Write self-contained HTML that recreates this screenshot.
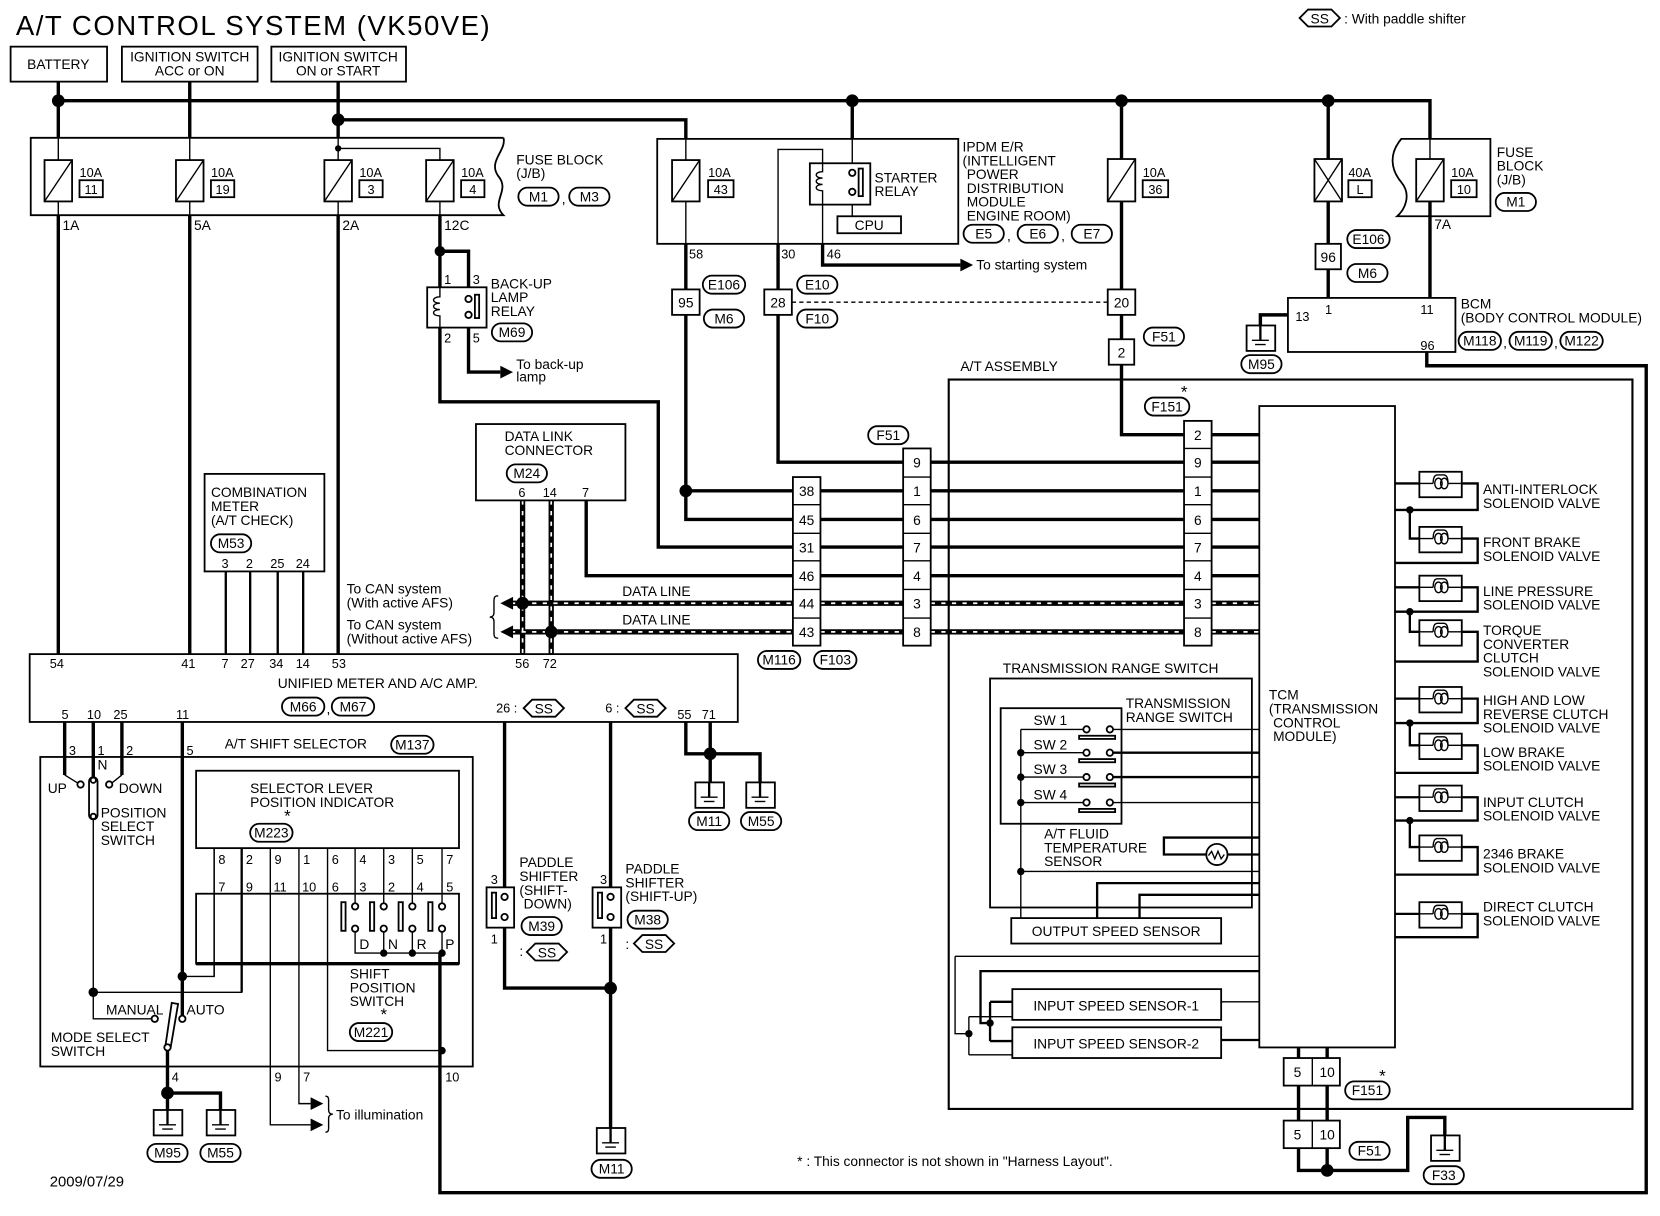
<!DOCTYPE html>
<html><head><meta charset="utf-8"><style>
html,body{margin:0;padding:0;background:#fff}
svg{display:block}
text{font-family:"Liberation Sans",Arial,sans-serif;font-size:13px;fill:#000}
.k{stroke:#000;stroke-width:3.2;fill:none}
.m{stroke:#000;stroke-width:2.2;fill:none}
.n{stroke:#000;stroke-width:1.3;fill:none}
.b{stroke:#000;stroke-width:1.7;fill:#fff}
.bn{stroke:#000;stroke-width:1.7;fill:none}
.c{text-anchor:middle}
</style></head><body>
<svg width="1660" height="1216" viewBox="0 0 1566 1147" preserveAspectRatio="none" xmlns="http://www.w3.org/2000/svg">
<defs>
<g id="gnd"><rect x="-13" y="0" width="27" height="24" class="b"/><line x1="0" y1="0" x2="0" y2="14" class="m"/><line x1="-8" y1="14" x2="8" y2="14" class="n"/><line x1="-5" y1="18" x2="5" y2="18" class="n"/></g>
<g id="coil"><rect x="0" y="-11" width="40" height="24" class="b"/><path d="M0,0 H13 M27,0 H40 M13,0 c0,-6 2,-8 4,-8 h6 c2,0 4,2 4,8" class="n"/><ellipse cx="18" cy="0" rx="3.5" ry="5" class="n"/><ellipse cx="23.5" cy="0" rx="3.5" ry="5" class="n"/></g>
<g id="ss"><polygon points="0,8 8,0 30,0 38,8 30,16 8,16" class="b"/><text x="19" y="13" class="c">SS</text></g>
</defs>

<!-- title -->
<text x="15" y="33" style="font-size:26px" textLength="447">A/T CONTROL SYSTEM (VK50VE)</text>
<use href="#ss" x="1226" y="9"/>
<text x="1268" y="22">: With paddle shifter</text>

<!-- top boxes -->
<rect x="10" y="44" width="91" height="33" class="b"/><text x="55" y="65" class="c">BATTERY</text>
<rect x="115" y="44" width="128" height="33" class="b"/><text x="179" y="58" class="c">IGNITION SWITCH</text><text x="179" y="71" class="c">ACC or ON</text>
<rect x="256" y="44" width="127" height="33" class="b"/><text x="319" y="58" class="c">IGNITION SWITCH</text><text x="319" y="71" class="c">ON or START</text>

<!-- bus -->
<path d="M55,77 V130 M55,95 H1349 V131 M179,77 V130 M319,77 V130 M319,113 H647 V131 M804,95 V131 M1058,95 V150 M1253,95 V150" class="k"/>
<circle cx="55" cy="95" r="6"/><circle cx="319" cy="113" r="6"/><circle cx="804" cy="95" r="6"/><circle cx="1058" cy="95" r="6"/><circle cx="1253" cy="95" r="6"/>

<!-- fuse block left -->
<path d="M475,130 H29 V203 H475 C462,190 482,180 470,166 C460,152 478,142 475,130" class="bn"/>
<path d="M55,130 V151 M179,130 V151 M319,130 V151 M319,140 H415 V151 M55,190 V203 M179,190 V203 M319,190 V203 M415,190 V203" class="n"/>
<circle cx="319" cy="140" r="3"/>
<g>
<rect x="42" y="151" width="26" height="39" class="b"/><line x1="42" y1="190" x2="68" y2="151" class="n"/><text x="75" y="167" style="font-size:12px">10A</text><rect x="75" y="170" width="22" height="16" class="b"/><text x="86" y="183" class="c" style="font-size:12px">11</text>
<rect x="166" y="151" width="26" height="39" class="b"/><line x1="166" y1="190" x2="192" y2="151" class="n"/><text x="199" y="167" style="font-size:12px">10A</text><rect x="199" y="170" width="22" height="16" class="b"/><text x="210" y="183" class="c" style="font-size:12px">19</text>
<rect x="306" y="151" width="26" height="39" class="b"/><line x1="306" y1="190" x2="332" y2="151" class="n"/><text x="339" y="167" style="font-size:12px">10A</text><rect x="339" y="170" width="22" height="16" class="b"/><text x="350" y="183" class="c" style="font-size:12px">3</text>
<rect x="402" y="151" width="26" height="39" class="b"/><line x1="402" y1="190" x2="428" y2="151" class="n"/><text x="435" y="167" style="font-size:12px">10A</text><rect x="435" y="170" width="22" height="16" class="b"/><text x="446" y="183" class="c" style="font-size:12px">4</text>
</g>
<text x="487" y="155">FUSE BLOCK</text><text x="487" y="168">(J/B)</text>
<rect x="489" y="177" width="38" height="17" rx="8.5" class="b"/><text x="508" y="190" class="c">M1</text><text x="530" y="192">,</text>
<rect x="537" y="177" width="38" height="17" rx="8.5" class="b"/><text x="556" y="190" class="c">M3</text>
<text x="59" y="217">1A</text><text x="183" y="217">5A</text><text x="323" y="217">2A</text><text x="419" y="217">12C</text>

<!-- main down wires -->
<path d="M55,203 V617 M179,203 V617 M319,203 V617 M415,203 V271 M415,309 V379 H621 V516 H748 M442,271 V237 H415" class="k"/>
<circle cx="415" cy="237" r="5"/>
<!-- backup relay -->
<rect x="403" y="271" width="56" height="38" class="b"/>
<path d="M415,271 V280 c-8,0 -8,6 0,6 c-8,0 -8,6 0,6 c-8,0 -8,6 0,6 V309" class="n"/>
<circle cx="442" cy="282" r="3" class="b"/><circle cx="442" cy="297" r="3" class="b"/><rect x="448" y="278" width="4" height="22" class="b"/>
<path d="M442,309 V351 H472" class="k"/><polygon points="472,345 484,351 472,357"/>
<text x="419" y="268" style="font-size:12px">1</text><text x="446" y="268" style="font-size:12px">3</text><text x="419" y="323" style="font-size:12px">2</text><text x="446" y="323" style="font-size:12px">5</text>
<text x="463" y="272">BACK-UP</text><text x="463" y="285">LAMP</text><text x="463" y="298">RELAY</text>
<rect x="464" y="305" width="38" height="17" rx="8.5" class="b"/><text x="483" y="318" class="c">M69</text>
<text x="487" y="348">To back-up</text><text x="487" y="360">lamp</text>

<!-- IPDM -->
<rect x="620" y="131" width="284" height="99" class="bn"/>
<rect x="634" y="151" width="26" height="39" class="b"/><line x1="634" y1="190" x2="660" y2="151" class="n"/>
<text x="668" y="167" style="font-size:12px">10A</text><rect x="668" y="170" width="24" height="16" class="b"/><text x="680" y="183" class="c" style="font-size:12px">43</text>
<path d="M647,131 V151 M647,190 V230 M734,230 V141 H776 V154 M804,131 V160 M804,181 V204 M776,193 V230" class="n"/>
<rect x="764" y="154" width="57" height="39" class="b"/>
<path d="M776,154 V162 c-8,0 -8,6 0,6 c-8,0 -8,6 0,6 c-8,0 -8,6 0,6 V193" class="n"/>
<circle cx="804" cy="163" r="3" class="b"/><circle cx="804" cy="181" r="3" class="b"/><rect x="810" y="159" width="4" height="26" class="b"/>
<rect x="790" y="204" width="60" height="16" class="b"/><text x="820" y="217" class="c">CPU</text>
<text x="825" y="172">STARTER</text><text x="825" y="185">RELAY</text>
<text x="908" y="143">IPDM E/R</text><text x="908" y="156">(INTELLIGENT</text><text x="912" y="169">POWER</text><text x="912" y="182">DISTRIBUTION</text><text x="912" y="195">MODULE</text><text x="912" y="208">ENGINE ROOM)</text>
<rect x="909" y="212" width="38" height="17" rx="8.5" class="b"/><text x="928" y="225" class="c">E5</text><text x="950" y="227">,</text>
<rect x="960" y="212" width="38" height="17" rx="8.5" class="b"/><text x="979" y="225" class="c">E6</text><text x="1001" y="227">,</text>
<rect x="1011" y="212" width="38" height="17" rx="8.5" class="b"/><text x="1030" y="225" class="c">E7</text>
<text x="650" y="244" style="font-size:12px">58</text><text x="737" y="244" style="font-size:12px">30</text><text x="780" y="244" style="font-size:12px">46</text>
<path d="M776,230 V250 H906" class="k"/><polygon points="906,244 918,250 906,256"/>
<text x="921" y="254">To starting system</text>
<path d="M647,230 V490 H748 M647,463 H748 M734,230 V436 H852" class="k"/>
<circle cx="647" cy="463" r="6"/>
<rect x="634" y="273" width="26" height="24" class="b"/><text x="647" y="290" class="c">95</text>
<rect x="721" y="273" width="26" height="24" class="b"/><text x="734" y="290" class="c">28</text>
<rect x="663" y="260" width="40" height="17" rx="8.5" class="b"/><text x="683" y="273" class="c">E106</text>
<rect x="664" y="292" width="38" height="17" rx="8.5" class="b"/><text x="683" y="305" class="c">M6</text>
<rect x="752" y="260" width="38" height="17" rx="8.5" class="b"/><text x="771" y="273" class="c">E10</text>
<rect x="752" y="292" width="38" height="17" rx="8.5" class="b"/><text x="771" y="305" class="c">F10</text>
<line x1="747" y1="285" x2="1045" y2="285" class="n" stroke-dasharray="4,3"/>

<!-- fuse 36 branch -->
<rect x="1045" y="150" width="26" height="40" class="b"/><line x1="1045" y1="190" x2="1071" y2="150" class="n"/>
<text x="1078" y="167" style="font-size:12px">10A</text><rect x="1078" y="170" width="24" height="16" class="b"/><text x="1090" y="183" class="c" style="font-size:12px">36</text>
<path d="M1058,190 V273 M1058,297 V320 M1058,344 V410 H1117" class="k"/>
<rect x="1045" y="273" width="26" height="24" class="b"/><text x="1058" y="290" class="c">20</text>
<rect x="1046" y="320" width="24" height="24" class="b"/><text x="1058" y="337" class="c">2</text>
<rect x="1079" y="309" width="38" height="17" rx="8.5" class="b"/><text x="1098" y="322" class="c">F51</text>
<rect x="1080" y="375" width="42" height="17" rx="8.5" class="b"/><text x="1101" y="388" class="c">F151</text><text x="1114" y="375" style="font-size:16px">*</text>

<!-- 40A and BCM -->
<rect x="1240" y="150" width="26" height="40" class="b"/><path d="M1240,150 L1266,190 M1266,150 L1240,190" class="n"/>
<text x="1272" y="167" style="font-size:12px">40A</text><rect x="1272" y="170" width="22" height="16" class="b"/><text x="1283" y="183" class="c" style="font-size:12px">L</text>
<path d="M1253,190 V230 M1253,254 V281" class="k"/>
<rect x="1241" y="230" width="24" height="24" class="b"/><text x="1253" y="247" class="c">96</text>
<rect x="1271" y="217" width="40" height="17" rx="8.5" class="b"/><text x="1291" y="230" class="c">E106</text>
<rect x="1271" y="249" width="38" height="17" rx="8.5" class="b"/><text x="1290" y="262" class="c">M6</text>
<path d="M1406,131 H1322 C1310,145 1312,160 1322,172 C1332,184 1325,198 1318,204 H1406 Z" class="bn"/>
<rect x="1336" y="150" width="26" height="40" class="b"/><line x1="1336" y1="190" x2="1362" y2="150" class="n"/>
<text x="1369" y="167" style="font-size:12px">10A</text><rect x="1369" y="170" width="24" height="16" class="b"/><text x="1381" y="183" class="c" style="font-size:12px">10</text>
<path d="M1349,131 V150" class="n"/>
<path d="M1349,190 V281" class="k"/>
<text x="1353" y="216">7A</text>
<text x="1412" y="148">FUSE</text><text x="1412" y="161">BLOCK</text><text x="1412" y="174">(J/B)</text>
<rect x="1411" y="182" width="38" height="17" rx="8.5" class="b"/><text x="1430" y="195" class="c">M1</text>
<rect x="1215" y="281" width="158" height="51" class="b"/>
<text x="1222" y="303" style="font-size:12px">13</text><text x="1250" y="296" style="font-size:12px">1</text><text x="1340" y="296" style="font-size:12px">11</text><text x="1340" y="330" style="font-size:12px">96</text>
<text x="1378" y="291">BCM</text><text x="1378" y="304">(BODY CONTROL MODULE)</text>
<rect x="1376" y="313" width="40" height="17" rx="8.5" class="b"/><text x="1396" y="326" class="c">M118</text><text x="1418" y="328">,</text>
<rect x="1424" y="313" width="40" height="17" rx="8.5" class="b"/><text x="1444" y="326" class="c">M119</text><text x="1466" y="328">,</text>
<rect x="1472" y="313" width="40" height="17" rx="8.5" class="b"/><text x="1492" y="326" class="c">M122</text>
<path d="M1215,297 H1189 V307" class="k"/>
<use href="#gnd" x="1189" y="307"/>
<rect x="1171" y="335" width="38" height="17" rx="8.5" class="b"/><text x="1190" y="348" class="c">M95</text>
<path d="M1346,332 V345 H1553 V1125 H415 V899" class="k"/>

<!-- A/T assembly -->
<text x="906" y="350">A/T ASSEMBLY</text>
<rect x="895" y="358" width="645" height="688" class="bn" style="stroke-width:2"/>
<rect x="1188" y="383" width="128" height="605" class="b"/>
<text x="1197" y="660">TCM</text><text x="1197" y="673">(TRANSMISSION</text><text x="1201" y="686">CONTROL</text><text x="1201" y="699">MODULE)</text>

<!-- harness lines -->
<path d="M1143,410 H1188 M1143,436 H1188 M1143,463 H1188 M1143,490 H1188 M1143,516 H1188 M1143,543 H1188
M878,436 H1117 M878,463 H1117 M878,490 H1117 M878,516 H1117 M878,543 H1117
M774,463 H852 M774,490 H852 M774,516 H852 M774,543 H852 M553,472 V543 H748" class="k"/>
<g>
<path d="M482,569 H748 M774,569 H852 M878,569 H1117 M1143,569 H1188 M482,596 H748 M774,596 H852 M878,596 H1117 M1143,596 H1188 M493,472 V617 M520,472 V617" stroke="#000" stroke-width="5" fill="none"/>
<path d="M482,569 H748 M774,569 H852 M878,569 H1117 M1143,569 H1188 M482,596 H748 M774,596 H852 M878,596 H1117 M1143,596 H1188 M493,472 V617 M520,472 V617" stroke="#fff" stroke-width="1.6" stroke-dasharray="4,6" fill="none"/>
</g>
<circle cx="493" cy="569" r="6"/><circle cx="520" cy="596" r="6"/>
<polygon points="484,563 472,569 484,575"/><polygon points="484,590 472,596 484,602"/>
<text x="587" y="562">DATA LINE</text><text x="587" y="589">DATA LINE</text>
<path d="M470,562 c-4,0 -4,2 -4,6 v10 c0,3 -2,4 -4,4 c2,0 4,1 4,4 v10 c0,4 0,6 4,6" class="n"/>
<text x="327" y="560">To CAN system</text><text x="327" y="573">(With active AFS)</text>
<text x="327" y="594">To CAN system</text><text x="327" y="607">(Without active AFS)</text>

<!-- connector columns -->
<g>
<rect x="1117" y="397" width="26" height="212" class="b"/>
<path d="M1117,423 H1143 M1117,450 H1143 M1117,476 H1143 M1117,503 H1143 M1117,529 H1143 M1117,556 H1143 M1117,583 H1143" class="n"/>
<text x="1130" y="415" class="c">2</text><text x="1130" y="441" class="c">9</text><text x="1130" y="468" class="c">1</text><text x="1130" y="495" class="c">6</text><text x="1130" y="521" class="c">7</text><text x="1130" y="548" class="c">4</text><text x="1130" y="574" class="c">3</text><text x="1130" y="601" class="c">8</text>
<rect x="852" y="423" width="26" height="186" class="b"/>
<path d="M852,450 H878 M852,476 H878 M852,503 H878 M852,529 H878 M852,556 H878 M852,583 H878" class="n"/>
<text x="865" y="441" class="c">9</text><text x="865" y="468" class="c">1</text><text x="865" y="495" class="c">6</text><text x="865" y="521" class="c">7</text><text x="865" y="548" class="c">4</text><text x="865" y="574" class="c">3</text><text x="865" y="601" class="c">8</text>
<rect x="819" y="402" width="38" height="17" rx="8.5" class="b"/><text x="838" y="415" class="c">F51</text>
<rect x="748" y="450" width="26" height="159" class="b"/>
<path d="M748,476 H774 M748,503 H774 M748,529 H774 M748,556 H774 M748,583 H774" class="n"/>
<text x="761" y="468" class="c">38</text><text x="761" y="495" class="c">45</text><text x="761" y="521" class="c">31</text><text x="761" y="548" class="c">46</text><text x="761" y="574" class="c">44</text><text x="761" y="601" class="c">43</text>
<rect x="715" y="614" width="40" height="17" rx="8.5" class="b"/><text x="735" y="627" class="c">M116</text>
<rect x="768" y="614" width="40" height="17" rx="8.5" class="b"/><text x="788" y="627" class="c">F103</text>
</g>

<!-- DLC -->
<rect x="449" y="400" width="141" height="72" class="b"/>
<text x="476" y="416">DATA LINK</text><text x="476" y="429">CONNECTOR</text>
<rect x="478" y="438" width="38" height="17" rx="8.5" class="b"/><text x="497" y="451" class="c">M24</text>
<text x="489" y="469" style="font-size:12px">6</text><text x="512" y="469" style="font-size:12px">14</text><text x="549" y="469" style="font-size:12px">7</text>

<!-- combination meter -->
<rect x="193" y="447" width="113" height="92" class="b"/>
<text x="199" y="469">COMBINATION</text><text x="199" y="482">METER</text><text x="199" y="495">(A/T CHECK)</text>
<rect x="199" y="504" width="38" height="17" rx="8.5" class="b"/><text x="218" y="517" class="c">M53</text>
<text x="209" y="536" style="font-size:12px">3</text><text x="232" y="536" style="font-size:12px">2</text><text x="255" y="536" style="font-size:12px">25</text><text x="279" y="536" style="font-size:12px">24</text>
<path d="M213,539 V617 M236,539 V617 M262,539 V617 M286,539 V617" class="m"/>

<!-- unified meter -->
<rect x="28" y="617" width="668" height="64" class="b"/>
<g style="font-size:12px">
<text x="47" y="630" style="font-size:12px">54</text><text x="171" y="630" style="font-size:12px">41</text><text x="209" y="630" style="font-size:12px">7</text><text x="227" y="630" style="font-size:12px">27</text><text x="254" y="630" style="font-size:12px">34</text><text x="279" y="630" style="font-size:12px">14</text><text x="313" y="630" style="font-size:12px">53</text><text x="486" y="630" style="font-size:12px">56</text><text x="512" y="630" style="font-size:12px">72</text>
<text x="58" y="678" style="font-size:12px">5</text><text x="82" y="678" style="font-size:12px">10</text><text x="107" y="678" style="font-size:12px">25</text><text x="166" y="678" style="font-size:12px">11</text>
<text x="468" y="672" style="font-size:12px">26 :</text><text x="571" y="672" style="font-size:12px">6 :</text>
<text x="639" y="678" style="font-size:12px">55</text><text x="662" y="678" style="font-size:12px">71</text>
</g>
<use href="#ss" x="494" y="660"/><use href="#ss" x="590" y="660"/>
<text x="262" y="649">UNIFIED METER AND A/C AMP.</text>
<rect x="266" y="658" width="40" height="17" rx="8.5" class="b"/><text x="286" y="671" class="c">M66</text><text x="308" y="673">,</text>
<rect x="313" y="658" width="40" height="17" rx="8.5" class="b"/><text x="333" y="671" class="c">M67</text>

<!-- meter ground -->
<path d="M647,681 V711 H717 V738 M670,681 V738" class="k"/><circle cx="670" cy="711" r="6"/>
<use href="#gnd" x="669" y="738"/><use href="#gnd" x="717" y="738"/>
<rect x="650" y="766" width="38" height="17" rx="8.5" class="b"/><text x="669" y="779" class="c">M11</text>
<rect x="699" y="766" width="38" height="17" rx="8.5" class="b"/><text x="718" y="779" class="c">M55</text>

<!-- paddle shifters -->
<path d="M476,681 V837 M476,875 V932 H576 M576,681 V1064" class="k"/><circle cx="576" cy="932" r="6"/>
<rect x="459" y="837" width="26" height="38" class="b"/><circle cx="476" cy="846" r="3" class="b"/><circle cx="476" cy="865" r="3" class="b"/><rect x="464" y="842" width="4" height="24" class="b"/>
<rect x="559" y="837" width="27" height="38" class="b"/><circle cx="576" cy="846" r="3" class="b"/><circle cx="576" cy="865" r="3" class="b"/><rect x="564" y="842" width="4" height="24" class="b"/>
<text x="463" y="834" style="font-size:12px">3</text><text x="463" y="890" style="font-size:12px">1</text>
<text x="566" y="834" style="font-size:12px">3</text><text x="566" y="890" style="font-size:12px">1</text>
<text x="490" y="818">PADDLE</text><text x="490" y="831">SHIFTER</text><text x="490" y="844">(SHIFT-</text><text x="494" y="857">DOWN)</text>
<rect x="492" y="865" width="38" height="17" rx="8.5" class="b"/><text x="511" y="878" class="c">M39</text>
<text x="490" y="902">:</text><use href="#ss" x="497" y="890"/>
<text x="590" y="824">PADDLE</text><text x="590" y="837">SHIFTER</text><text x="590" y="850">(SHIFT-UP)</text>
<rect x="592" y="859" width="38" height="17" rx="8.5" class="b"/><text x="611" y="872" class="c">M38</text>
<text x="590" y="895">:</text><use href="#ss" x="598" y="882"/>
<use href="#gnd" x="576" y="1064"/>
<rect x="558" y="1094" width="38" height="17" rx="8.5" class="b"/><text x="577" y="1107" class="c">M11</text>

<!-- shift selector -->
<rect x="38" y="714" width="408" height="292" class="bn"/>
<text x="212" y="706">A/T SHIFT SELECTOR</text>
<rect x="369" y="694" width="40" height="17" rx="8.5" class="b"/><text x="389" y="707" class="c">M137</text>
<path d="M61,681 V731 M88,681 V733 M115,681 V731 M172,681 V958" class="k"/>
<text x="65" y="712" style="font-size:12px">3</text><text x="92" y="712" style="font-size:12px">1</text><text x="119" y="712" style="font-size:12px">2</text><text x="176" y="712" style="font-size:12px">5</text>
<path d="M61,731 L74,739 M115,731 L105,739 M88,773 V936 H228 V800 M88,936 V961 H143 M172,921 H202 V800" class="n"/>
<path d="M228,800 V936" class="m"/>
<circle cx="76" cy="740" r="3" class="b"/><circle cx="103" cy="740" r="3" class="b"/>
<rect x="84" y="733" width="8" height="40" rx="4" class="b"/><circle cx="88" cy="736" r="2.5" class="b"/><circle cx="88" cy="770" r="2.5" class="b"/>
<circle cx="88" cy="936" r="4.5"/><circle cx="172" cy="921" r="4.5"/>
<text x="45" y="748">UP</text><text x="112" y="748">DOWN</text><text x="92" y="726">N</text>
<text x="95" y="771">POSITION</text><text x="95" y="784">SELECT</text><text x="95" y="797">SWITCH</text>
<circle cx="146" cy="961" r="3" class="b"/><circle cx="172" cy="961" r="3" class="b"/>
<path d="M156,987 L162,946 L168,947 L161,988 Z" class="b"/><circle cx="158" cy="988" r="3" class="b"/>
<text x="100" y="957">MANUAL</text><text x="176" y="957">AUTO</text>
<text x="48" y="983">MODE SELECT</text><text x="48" y="996">SWITCH</text>
<path d="M158,991 V1047 M158,1031 H208 V1047" class="k"/><circle cx="158" cy="1031" r="6"/>
<text x="162" y="1020" style="font-size:12px">4</text>
<use href="#gnd" x="158" y="1047"/><use href="#gnd" x="208" y="1047"/>
<rect x="139" y="1079" width="38" height="17" rx="8.5" class="b"/><text x="158" y="1092" class="c">M95</text>
<rect x="189" y="1079" width="38" height="17" rx="8.5" class="b"/><text x="208" y="1092" class="c">M55</text>

<rect x="185" y="727" width="248" height="73" class="b"/>
<text x="236" y="748">SELECTOR LEVER</text><text x="236" y="761">POSITION INDICATOR</text>
<text x="268" y="775" style="font-size:16px">*</text>
<rect x="236" y="777" width="40" height="17" rx="8.5" class="b"/><text x="256" y="790" class="c">M223</text>
<rect x="185" y="843" width="248" height="66" class="bn"/><line x1="185" y1="909" x2="433" y2="909" class="k"/>
<path d="M202,800 V921 M255,800 V1061 H293 M282,800 V1041 H293 M309,800 V991 H417 M335,800 V852 M362,800 V852 M389,800 V852 M417,800 V852" class="n"/>
<polygon points="293,1035 305,1041 293,1047"/><polygon points="293,1055 305,1061 293,1067"/>
<g style="font-size:12px">
<text x="206" y="815" style="font-size:12px">8</text><text x="232" y="815" style="font-size:12px">2</text><text x="259" y="815" style="font-size:12px">9</text><text x="286" y="815" style="font-size:12px">1</text><text x="313" y="815" style="font-size:12px">6</text><text x="339" y="815" style="font-size:12px">4</text><text x="366" y="815" style="font-size:12px">3</text><text x="393" y="815" style="font-size:12px">5</text><text x="421" y="815" style="font-size:12px">7</text>
<text x="206" y="841" style="font-size:12px">7</text><text x="232" y="841" style="font-size:12px">9</text><text x="258" y="841" style="font-size:12px">11</text><text x="285" y="841" style="font-size:12px">10</text><text x="313" y="841" style="font-size:12px">6</text><text x="339" y="841" style="font-size:12px">3</text><text x="366" y="841" style="font-size:12px">2</text><text x="393" y="841" style="font-size:12px">4</text><text x="421" y="841" style="font-size:12px">5</text>
</g>
<g>
<circle cx="335" cy="855" r="3" class="b"/><circle cx="335" cy="876" r="3" class="b"/><rect x="322" y="851" width="4" height="27" class="b"/>
<circle cx="362" cy="855" r="3" class="b"/><circle cx="362" cy="876" r="3" class="b"/><rect x="349" y="851" width="4" height="27" class="b"/>
<circle cx="389" cy="855" r="3" class="b"/><circle cx="389" cy="876" r="3" class="b"/><rect x="376" y="851" width="4" height="27" class="b"/>
<circle cx="417" cy="855" r="3" class="b"/><circle cx="417" cy="876" r="3" class="b"/><rect x="404" y="851" width="4" height="27" class="b"/>
<path d="M335,879 V899 H417 M362,879 V899 M389,879 V899 M417,879 V899" class="n"/>
<circle cx="362" cy="899" r="3.5"/><circle cx="389" cy="899" r="3.5"/><circle cx="417" cy="899" r="3.5"/><circle cx="417" cy="991" r="3.5"/>
<text x="339" y="895">D</text><text x="366" y="895">N</text><text x="393" y="895">R</text><text x="420" y="895">P</text>
</g>
<text x="330" y="923">SHIFT</text><text x="330" y="936">POSITION</text><text x="330" y="949">SWITCH</text>
<text x="359" y="962" style="font-size:16px">*</text>
<rect x="330" y="965" width="40" height="17" rx="8.5" class="b"/><text x="350" y="978" class="c">M221</text>
<text x="259" y="1020" style="font-size:12px">9</text><text x="286" y="1020" style="font-size:12px">7</text><text x="420" y="1020" style="font-size:12px">10</text>
<path d="M307,1034 c3,0 3,2 3,5 v8 c0,3 2,4 4,4 c-2,0 -4,1 -4,4 v8 c0,3 0,5 -3,5" class="n"/>
<text x="317" y="1056">To illumination</text>

<!-- transmission range switch -->
<text x="946" y="635">TRANSMISSION RANGE SWITCH</text>
<rect x="934" y="640" width="247" height="216" class="bn"/>
<rect x="944" y="668" width="114" height="109" class="b"/>
<text x="1062" y="668">TRANSMISSION</text><text x="1062" y="681">RANGE SWITCH</text>
<text x="975" y="684">SW 1</text><text x="975" y="707">SW 2</text><text x="975" y="730">SW 3</text><text x="975" y="754">SW 4</text>
<path d="M963,688 V866 M963,688 H1022 M963,710 H1022 M963,733 H1022 M963,757 H1022 M963,822 H1188 M1050,688 H1188 M1050,757 H1188" class="n"/>
<path d="M1050,710 H1188 M1050,733 H1188" class="m"/>
<g>
<circle cx="1025" cy="688" r="3" class="b"/><circle cx="1047" cy="688" r="3" class="b"/><rect x="1018" y="694" width="34" height="3" class="b"/>
<circle cx="1025" cy="710" r="3" class="b"/><circle cx="1047" cy="710" r="3" class="b"/><rect x="1018" y="716" width="34" height="3" class="b"/>
<circle cx="1025" cy="733" r="3" class="b"/><circle cx="1047" cy="733" r="3" class="b"/><rect x="1018" y="739" width="34" height="3" class="b"/>
<circle cx="1025" cy="757" r="3" class="b"/><circle cx="1047" cy="757" r="3" class="b"/><rect x="1018" y="763" width="34" height="3" class="b"/>
</g>
<circle cx="963" cy="710" r="3.5"/><circle cx="963" cy="733" r="3.5"/><circle cx="963" cy="757" r="3.5"/><circle cx="963" cy="822" r="3.5"/>
<text x="985" y="791">A/T FLUID</text><text x="985" y="804">TEMPERATURE</text><text x="985" y="817">SENSOR</text>
<path d="M1188,790 H1098 V806 H1188" class="m"/>
<circle cx="1148" cy="806" r="10" class="b"/><path d="M1140,807 l3,-4 l3,7 l3,-7 l3,7 l3,-4" class="n"/>
<path d="M1035,866 V833 H1188 M1075,866 V844 H1188" class="m"/>
<rect x="954" y="866" width="198" height="24" class="b"/><text x="1053" y="883" class="c">OUTPUT SPEED SENSOR</text>
<!-- input sensors -->
<path d="M901,902 H1188 M901,902 V975 H914 M914,959 V995 M914,959 H955 M914,995 H955 M1152,945 H1188" class="n"/>
<path d="M1188,916 H925 V965 H934 M934,945 V982 M934,945 H955 M934,982 H955 M1152,981 H1188" class="m"/>
<circle cx="914" cy="975" r="3.5"/><circle cx="934" cy="965" r="3.5"/>
<rect x="955" y="933" width="197" height="29" class="b"/><text x="1053" y="953" class="c">INPUT SPEED SENSOR-1</text>
<rect x="955" y="969" width="197" height="29" class="b"/><text x="1053" y="989" class="c">INPUT SPEED SENSOR-2</text>
<!-- TCM bottom -->
<path d="M1225,988 V998 M1252,988 V998 M1225,1024 V1057 M1252,1024 V1057 M1252,1083 V1104 M1225,1083 V1104 H1328 V1054 H1363 V1071" class="k"/>
<rect x="1211" y="998" width="53" height="26" class="b"/><line x1="1238" y1="998" x2="1238" y2="1024" class="n"/>
<text x="1224" y="1016" class="c">5</text><text x="1252" y="1016" class="c">10</text>
<rect x="1211" y="1057" width="53" height="26" class="b"/><line x1="1238" y1="1057" x2="1238" y2="1083" class="n"/>
<text x="1224" y="1075" class="c">5</text><text x="1252" y="1075" class="c">10</text>
<circle cx="1252" cy="1104" r="6"/>
<rect x="1269" y="1020" width="42" height="17" rx="8.5" class="b"/><text x="1290" y="1033" class="c">F151</text><text x="1301" y="1020" style="font-size:16px">*</text>
<rect x="1273" y="1077" width="38" height="17" rx="8.5" class="b"/><text x="1292" y="1090" class="c">F51</text>
<use href="#gnd" x="1363" y="1071"/>
<rect x="1343" y="1100" width="38" height="17" rx="8.5" class="b"/><text x="1362" y="1113" class="c">F33</text>

<!-- solenoids -->
<g>
<path d="M1316,456 H1339 M1379,456 H1394 V481 H1316 M1330,481 V508 H1339 M1379,508 H1394 V531 H1316
M1316,554 H1339 M1379,554 H1394 V577 H1316 M1330,577 V596 H1339 M1379,596 H1394 V624 H1316
M1316,659 H1339 M1379,659 H1394 V682 H1316 M1330,682 V703 H1339 M1379,703 H1394 V729 H1316
M1316,752 H1339 M1379,752 H1394 V774 H1316 M1330,774 V799 H1339 M1379,799 H1394 V825 H1316
M1316,862 H1339 M1379,862 H1394 V884 H1316" class="m"/>
<circle cx="1330" cy="481" r="3.5"/><circle cx="1330" cy="577" r="3.5"/><circle cx="1330" cy="682" r="3.5"/><circle cx="1330" cy="774" r="3.5"/>
<use href="#coil" x="1339" y="456"/><use href="#coil" x="1339" y="508"/><use href="#coil" x="1339" y="554"/><use href="#coil" x="1339" y="596"/><use href="#coil" x="1339" y="659"/><use href="#coil" x="1339" y="703"/><use href="#coil" x="1339" y="752"/><use href="#coil" x="1339" y="799"/><use href="#coil" x="1339" y="862"/>
</g>
<g>
<text x="1399" y="466">ANTI-INTERLOCK</text><text x="1399" y="479">SOLENOID VALVE</text>
<text x="1399" y="516">FRONT BRAKE</text><text x="1399" y="529">SOLENOID VALVE</text>
<text x="1399" y="562">LINE PRESSURE</text><text x="1399" y="575">SOLENOID VALVE</text>
<text x="1399" y="599">TORQUE</text><text x="1399" y="612">CONVERTER</text><text x="1399" y="625">CLUTCH</text><text x="1399" y="638">SOLENOID VALVE</text>
<text x="1399" y="665">HIGH AND LOW</text><text x="1399" y="678">REVERSE CLUTCH</text><text x="1399" y="691">SOLENOID VALVE</text>
<text x="1399" y="714">LOW BRAKE</text><text x="1399" y="727">SOLENOID VALVE</text>
<text x="1399" y="761">INPUT CLUTCH</text><text x="1399" y="774">SOLENOID VALVE</text>
<text x="1399" y="810">2346 BRAKE</text><text x="1399" y="823">SOLENOID VALVE</text>
<text x="1399" y="860">DIRECT CLUTCH</text><text x="1399" y="873">SOLENOID VALVE</text>
</g>

<!-- footer -->
<text x="47" y="1119" style="font-size:14px">2009/07/29</text>
<text x="752" y="1100">* : This connector is not shown in "Harness Layout".</text>
</svg>
</body></html>
